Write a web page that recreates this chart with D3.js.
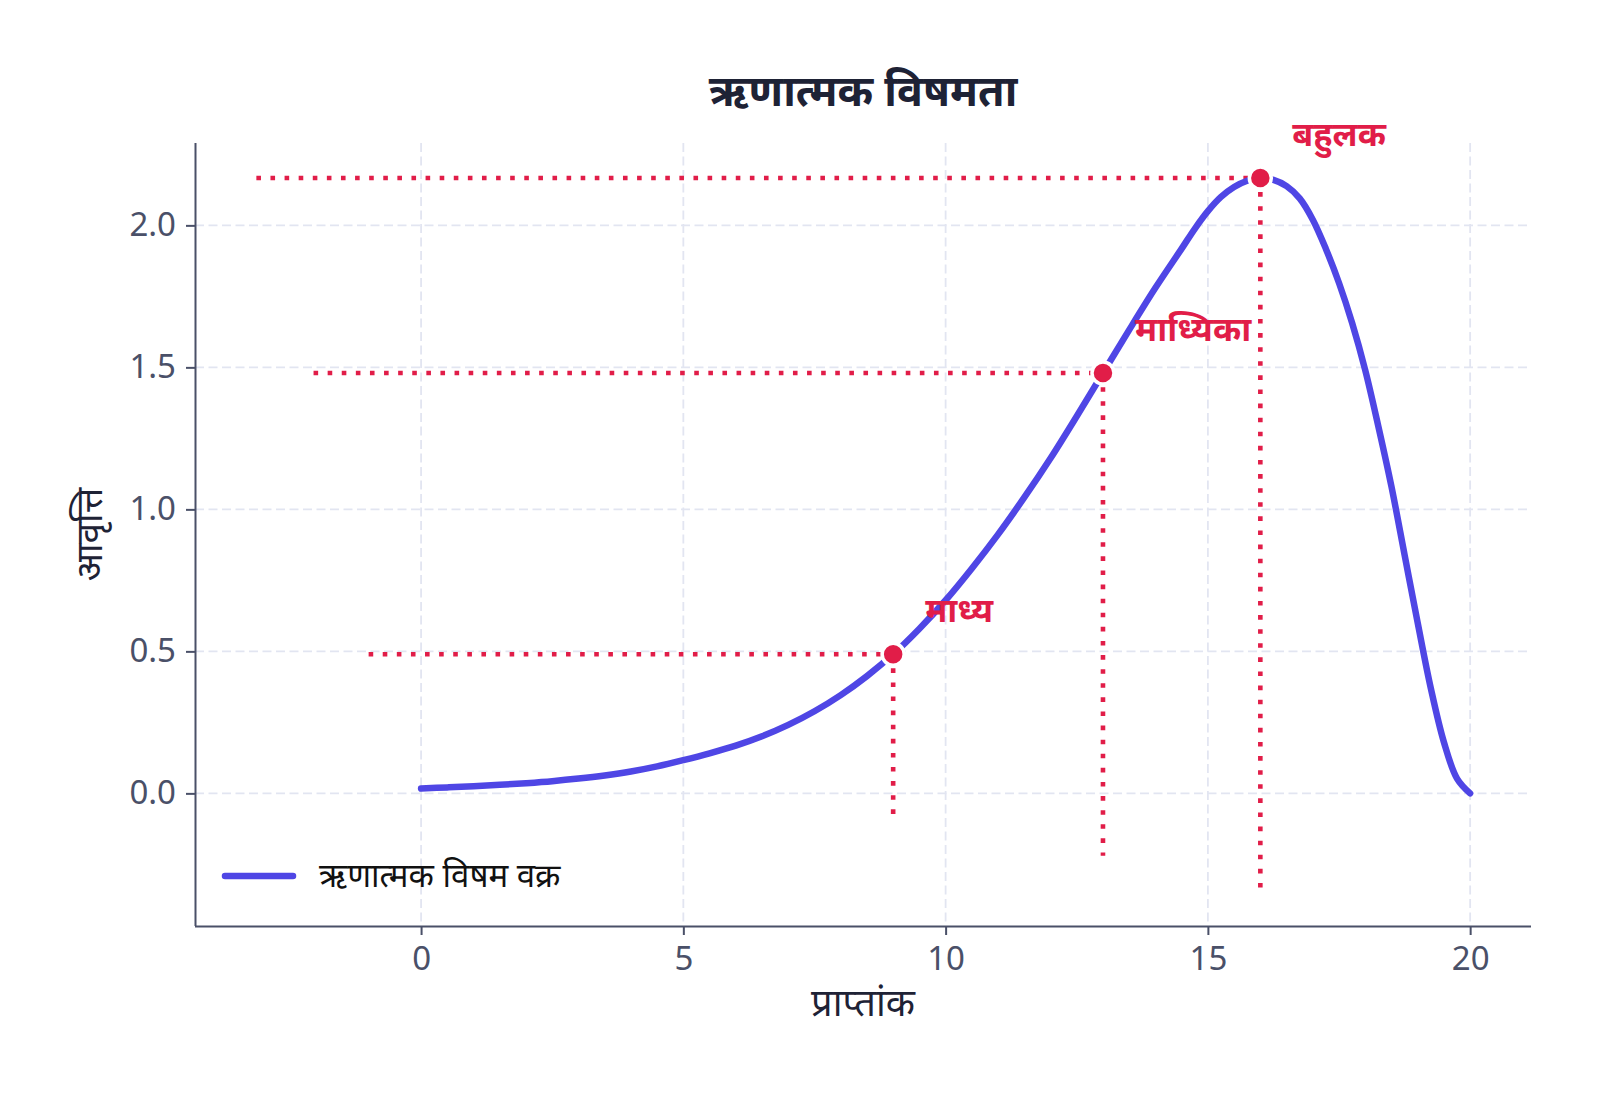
<!DOCTYPE html>
<html>
<head>
<meta charset="utf-8">
<script src="https://cdn.jsdelivr.net/npm/d3@7/dist/d3.min.js"></script>
<style>
  html, body { margin: 0; padding: 0; background: #ffffff; }
  svg { display: block; }
  text { font-family: "Noto Sans", "Noto Sans Devanagari", "Lohit Devanagari", sans-serif; }
</style>
</head>
<body>
<svg id="chart" width="1600" height="1098"></svg>
<script>
// ---- data ----
const curveX = [0, 0.5, 1, 1.5, 2, 2.5, 3, 3.5, 4, 4.5, 5, 5.5, 6, 6.5, 7, 7.5, 8, 8.5, 9, 9.5,
                10, 10.5, 11, 11.5, 12, 12.5, 13, 13.5, 14, 14.5, 14.75, 15, 15.25, 15.5, 15.75,
                16, 16.25, 16.5, 16.75, 17, 17.25, 17.5, 17.75,
                18, 18.25, 18.5, 18.75, 19, 19.25, 19.5, 19.75, 20];
const curveY = [0.017, 0.021, 0.025, 0.030, 0.036, 0.043, 0.052, 0.063, 0.077, 0.095, 0.117, 0.141,
                0.168, 0.201, 0.241, 0.289, 0.346, 0.413, 0.490, 0.580,
                0.680, 0.792, 0.912, 1.042, 1.180, 1.328, 1.480, 1.632, 1.780, 1.918, 1.988, 2.050,
                2.100, 2.135, 2.157,
                2.167, 2.160, 2.138, 2.095, 2.020, 1.917, 1.797, 1.656,
                1.490, 1.292, 1.080, 0.840, 0.600, 0.370, 0.180, 0.052, 0.000];

const markerNames = ["माध्य", "माध्यिका", "बहुलक"];
const markerX = [9, 13, 16];
const markerY = [0.49, 1.48, 2.167];
const hLineStart = [-1.0, -2.05, -3.14];
const vLineEnd = [-0.10, -0.22, -0.34];

const xTicks = [0, 5, 10, 15, 20];
const yTicks = [0.0, 0.5, 1.0, 1.5, 2.0];

const titleText = "ऋणात्मक विषमता";
const xLabel = "प्राप्तांक";
const yLabel = "आवृत्ति";
const legendLabel = "ऋणात्मक विषम वक्र";

// ---- layout ----
const svg = d3.select("#chart");
const L = 195, R = 1531, T = 143, B = 926;
const x = d3.scaleLinear().domain([-4.31, 21.16]).range([L, R]);
const y = d3.scaleLinear().domain([-0.467, 2.29]).range([B, T]);

const lineColor = "#4F46E5";
const red = "#E11D48";
const axisColor = "#4A5068";

// grid
const grid = svg.append("g");
grid.selectAll("line.gx").data(xTicks).join("line")
  .attr("x1", d => x(d)).attr("x2", d => x(d)).attr("y1", T).attr("y2", B)
  .attr("stroke", "#E2E5F1").attr("stroke-width", 1.8).attr("stroke-dasharray", "9 4.5");
grid.selectAll("line.gy").data(yTicks).join("line")
  .attr("x1", L).attr("x2", R).attr("y1", d => y(d)).attr("y2", d => y(d))
  .attr("stroke", "#E2E5F1").attr("stroke-width", 1.8).attr("stroke-dasharray", "9 4.5");

// dotted reference lines
const refs = markerX.map((mx, i) => ({x: mx, y: markerY[i], x0: hLineStart[i], y0: vLineEnd[i], name: markerNames[i]}));
const refG = svg.append("g");
refG.selectAll("line.h").data(refs).join("line")
  .attr("x1", d => x(d.x0)).attr("x2", d => x(d.x)).attr("y1", d => y(d.y)).attr("y2", d => y(d.y))
  .attr("stroke", red).attr("stroke-width", 4.6).attr("stroke-dasharray", "4.6 9.5");
refG.selectAll("line.v").data(refs).join("line")
  .attr("x1", d => x(d.x)).attr("x2", d => x(d.x)).attr("y1", d => y(d.y)).attr("y2", d => y(d.y0))
  .attr("stroke", red).attr("stroke-width", 4.6).attr("stroke-dasharray", "4.6 9.5");

// curve
const pts = curveX.map((v, i) => [v, curveY[i]]);
const line = d3.line().x(d => x(d[0])).y(d => y(d[1])).curve(d3.curveCatmullRom.alpha(0.5));
svg.append("path").datum(pts)
  .attr("d", line).attr("fill", "none").attr("stroke", lineColor)
  .attr("stroke-width", 6.5).attr("stroke-linecap", "round").attr("stroke-linejoin", "round");

// markers
svg.append("g").selectAll("circle").data(refs).join("circle")
  .attr("cx", d => x(d.x)).attr("cy", d => y(d.y)).attr("r", 11)
  .attr("fill", red).attr("stroke", "#ffffff").attr("stroke-width", 3.5);

// marker labels
svg.append("g").selectAll("text").data(refs).join("text")
  .attr("x", d => x(d.x) + 32).attr("y", d => y(d.y) - 32)
  .attr("fill", red).attr("font-size", 34).attr("font-weight", "bold")
  .text(d => d.name);

// axes
const xAxis = d3.axisBottom(x).tickValues(xTicks).tickFormat(d3.format("d")).tickSize(9).tickPadding(12);
const yAxis = d3.axisLeft(y).tickValues(yTicks).tickFormat(d3.format(".1f")).tickSize(9).tickPadding(10);

const gx = svg.append("g").attr("transform", `translate(0,${B})`).call(xAxis);
gx.select(".domain").attr("d", `M${L},0.5H${R}`);
const gy = svg.append("g").attr("transform", `translate(${L},0)`).call(yAxis);
gy.select(".domain").attr("d", `M0.5,${T}V${B}`);

[gx, gy].forEach(g => {
  g.select(".domain").attr("stroke", axisColor).attr("stroke-width", 2);
  g.selectAll(".tick line").attr("stroke", axisColor).attr("stroke-width", 2);
  g.selectAll(".tick text").attr("fill", axisColor).attr("font-size", 33)
    .style("font-family", '"Noto Sans", sans-serif');
});

// title and axis labels
svg.append("text").attr("x", (L + R) / 2).attr("y", 106).attr("text-anchor", "middle")
  .attr("font-size", 43).attr("font-weight", "bold").attr("fill", "#1E2235").text(titleText);
svg.append("text").attr("x", (L + R) / 2).attr("y", 1016).attr("text-anchor", "middle")
  .attr("font-size", 38).attr("fill", "#1E2235").text(xLabel);
svg.append("text").attr("transform", `translate(102,${(T + B) / 2}) rotate(-90)`)
  .attr("text-anchor", "middle").attr("font-size", 37).attr("fill", "#1E2235").text(yLabel);

// legend
const lg = svg.append("g");
lg.append("line").attr("x1", 225).attr("x2", 293).attr("y1", 876).attr("y2", 876)
  .attr("stroke", lineColor).attr("stroke-width", 6.5).attr("stroke-linecap", "round");
lg.append("text").attr("x", 319).attr("y", 887).attr("font-size", 33).attr("fill", "#111111")
  .text(legendLabel);
</script>
</body>
</html>
